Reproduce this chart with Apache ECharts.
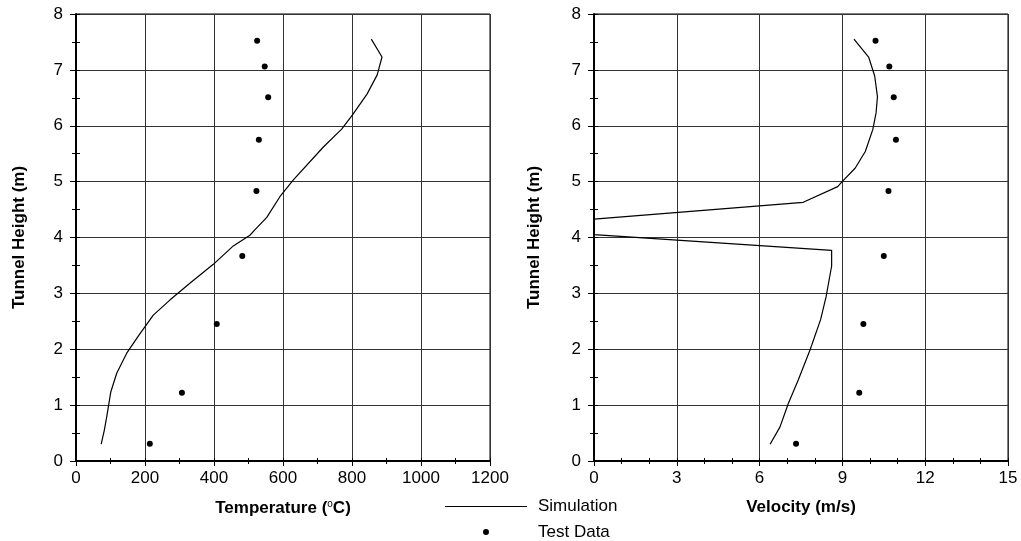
<!DOCTYPE html>
<html>
<head>
<meta charset="utf-8">
<script src="https://cdn.jsdelivr.net/npm/echarts@6/dist/echarts.min.js"></script>
<style>
  html, body { margin: 0; padding: 0; background: #fff; }
  #main { width: 1021px; height: 541px; }
</style>
</head>
<body>
<div id="main"></div>
<script>
// simulation profiles (top of tunnel -> floor)
const simTempHeight = [7.55, 7.23, 6.91, 6.57, 6.20, 5.94, 5.62, 5.03, 4.73, 4.36, 4.14, 4.04, 3.85, 3.52, 3.18, 2.88, 2.61, 2.24, 1.93, 1.57, 1.24, 0.79, 0.55, 0.30]
const simTemp = [856, 887, 873, 844, 802, 770, 717, 630, 591, 553, 519, 504, 456, 398, 330, 272, 224, 181, 147, 118, 101, 89, 82, 73]

const simVelHeight = [7.55, 7.23, 6.89, 6.52, 6.23, 5.93, 5.54, 5.24, 5.00, 4.91, 4.63, 4.33, 4.05, 3.77, 3.49, 2.94, 2.53, 1.99, 1.45, 1.03, 0.61, 0.30]
const simVel = [9.42, 9.95, 10.17, 10.27, 10.22, 10.10, 9.83, 9.46, 8.99, 8.83, 7.58, 0, 0, 8.61, 8.61, 8.41, 8.21, 7.83, 7.40, 7.04, 6.74, 6.38]

// test data
const testHeight = [0.31, 1.22, 2.45, 3.67, 4.83, 5.75, 6.51, 7.06, 7.52]
const testTemp = [214, 307, 408, 482, 523, 530, 557, 547, 525]
const testVel = [7.32, 9.61, 9.76, 10.50, 10.67, 10.94, 10.86, 10.70, 10.20]

// tick labels
const heightTicks = [0, 1, 2, 3, 4, 5, 6, 7, 8]
const tempTicks = [0, 200, 400, 600, 800, 1000, 1200]
const velTicks = [0, 3, 6, 9, 12, 15]

const FONT = 'Liberation Sans, Arial, sans-serif'

const pairs = (xs, ys) => xs.map((x, i) => [x, ys[i]])

const gridBox = (left, show) => ({
    left: left,
    top: 14,
    width: 414,
    height: 447,
    show: show,
    borderColor: '#000',
    borderWidth: 1,
    backgroundColor: 'transparent',
    outerBoundsMode: 'none'
})

// main axis: labels, gridlines, outward ticks
const mainX = (grid, ticks, minorSplit, name) => ({
    type: 'value',
    gridIndex: grid,
    position: 'bottom',
    min: ticks[0],
    max: ticks[ticks.length - 1],
    interval: ticks[1] - ticks[0],
    name: name,
    nameLocation: 'middle',
    nameGap: 38,
    nameMoveOverlap: false,
    nameTextStyle: {
        fontFamily: FONT,
        rich: {
            a: { fontFamily: FONT, fontSize: 17, fontWeight: 'bold', color: '#000' },
            sup: { fontFamily: FONT, fontSize: 10, fontWeight: 'normal', color: '#000', verticalAlign: 'top', padding: [0, 0, 9, 0] }
        }
    },
    axisLine: { show: true, onZero: false, lineStyle: { color: '#000', width: 2 } },
    axisTick: { show: true, length: 5, lineStyle: { color: '#000', width: 1 } },
    minorTick: { show: true, splitNumber: minorSplit, length: 3, lineStyle: { color: '#000', width: 1 } },
    axisLabel: { fontFamily: FONT, fontSize: 17, color: '#000', margin: 9, formatter: (v) => String(v) },
    splitLine: { show: true, lineStyle: { color: '#333', width: 1 } }
})

const mainY = (grid, gap) => ({
    type: 'value',
    gridIndex: grid,
    position: 'left',
    min: heightTicks[0],
    max: heightTicks[heightTicks.length - 1],
    interval: heightTicks[1] - heightTicks[0],
    name: 'Tunnel Height (m)',
    nameLocation: 'middle',
    nameGap: gap,
    nameMoveOverlap: false,
    nameTextStyle: { fontFamily: FONT, fontSize: 17, fontWeight: 'bold', color: '#000' },
    axisLine: { show: true, onZero: false, lineStyle: { color: '#000', width: 2 } },
    axisTick: { show: true, length: 6, lineStyle: { color: '#000', width: 1 } },
    minorTick: { show: true, splitNumber: 2, length: 4, lineStyle: { color: '#000', width: 1 } },
    axisLabel: { fontFamily: FONT, fontSize: 17, color: '#000', margin: 13 },
    splitLine: { show: true, lineStyle: { color: '#333', width: 1 } }
})

// twin axes in an overlaid grid: only the inward half of the minor ticks
const innerX = (grid, ticks, step) => ({
    type: 'value',
    gridIndex: grid,
    position: 'bottom',
    min: ticks[0],
    max: ticks[ticks.length - 1],
    interval: step,
    axisLine: { show: false, onZero: false },
    axisTick: { show: true, inside: true, length: 3, lineStyle: { color: '#000', width: 1 } },
    axisLabel: { show: false },
    splitLine: { show: false }
})

const innerY = (grid) => ({
    type: 'value',
    gridIndex: grid,
    position: 'left',
    min: heightTicks[0],
    max: heightTicks[heightTicks.length - 1],
    interval: 0.5,
    axisLine: { show: false, onZero: false },
    axisTick: { show: true, inside: true, length: 4, lineStyle: { color: '#000', width: 1 } },
    axisLabel: { show: false },
    splitLine: { show: false }
})

// legend icons, both 82 wide so the dot sits under the middle of the line
const lineIcon = 'path://M0,0h82v1h-82z'
const dotIcon = 'path://M0,3h0.01v0.01h-0.01z M81.99,3h0.01v0.01h-0.01z M38,3a3,3 0 1,0 6,0a3,3 0 1,0 -6,0z'

// one legend block per row
const legendRow = (top, item) => ({
    orient: 'vertical',
    left: 445,
    top: top,
    padding: 0,
    itemWidth: 82,
    itemHeight: 6,
    textStyle: { fontFamily: FONT, fontSize: 17, color: '#000', lineHeight: 20, padding: [0, 0, 0, 6] },
    data: [item]
})

var myChart = echarts.init(document.getElementById('main'), null, { renderer: 'canvas' })

var option = {
    animation: false,
    backgroundColor: '#fff',
    textStyle: { fontFamily: FONT },
    grid: [gridBox(76, true), gridBox(594, true), gridBox(76, false), gridBox(594, false)],
    xAxis: [
        mainX(0, tempTicks, 2, '{a|Temperature (}{sup|o}{a|C)}'),
        mainX(1, velTicks, 3, '{a|Velocity (m/s)}'),
        innerX(2, tempTicks, 100),
        innerX(3, velTicks, 1)
    ],
    yAxis: [mainY(0, 48), mainY(1, 51), innerY(2), innerY(3)],
    legend: [
        legendRow(496.5, { name: 'Simulation', icon: lineIcon }),
        legendRow(522, { name: 'Test Data', icon: dotIcon })
    ],
    series: [
        {
            name: 'Simulation',
            type: 'line',
            xAxisIndex: 0,
            yAxisIndex: 0,
            data: pairs(simTemp, simTempHeight),
            showSymbol: false,
            symbol: 'none',
            itemStyle: { color: '#000' },
            lineStyle: { color: '#000', width: 1.2 }
        },
        {
            name: 'Simulation',
            type: 'line',
            xAxisIndex: 1,
            yAxisIndex: 1,
            data: pairs(simVel, simVelHeight),
            showSymbol: false,
            symbol: 'none',
            itemStyle: { color: '#000' },
            lineStyle: { color: '#000', width: 1.2 }
        },
        {
            name: 'Test Data',
            type: 'scatter',
            xAxisIndex: 0,
            yAxisIndex: 0,
            data: pairs(testTemp, testHeight),
            symbol: 'circle',
            symbolSize: 6,
            itemStyle: { color: '#000', opacity: 1 }
        },
        {
            name: 'Test Data',
            type: 'scatter',
            xAxisIndex: 1,
            yAxisIndex: 1,
            data: pairs(testVel, testHeight),
            symbol: 'circle',
            symbolSize: 6,
            itemStyle: { color: '#000', opacity: 1 }
        }
    ]
}

myChart.setOption(option)
</script>
</body>
</html>
